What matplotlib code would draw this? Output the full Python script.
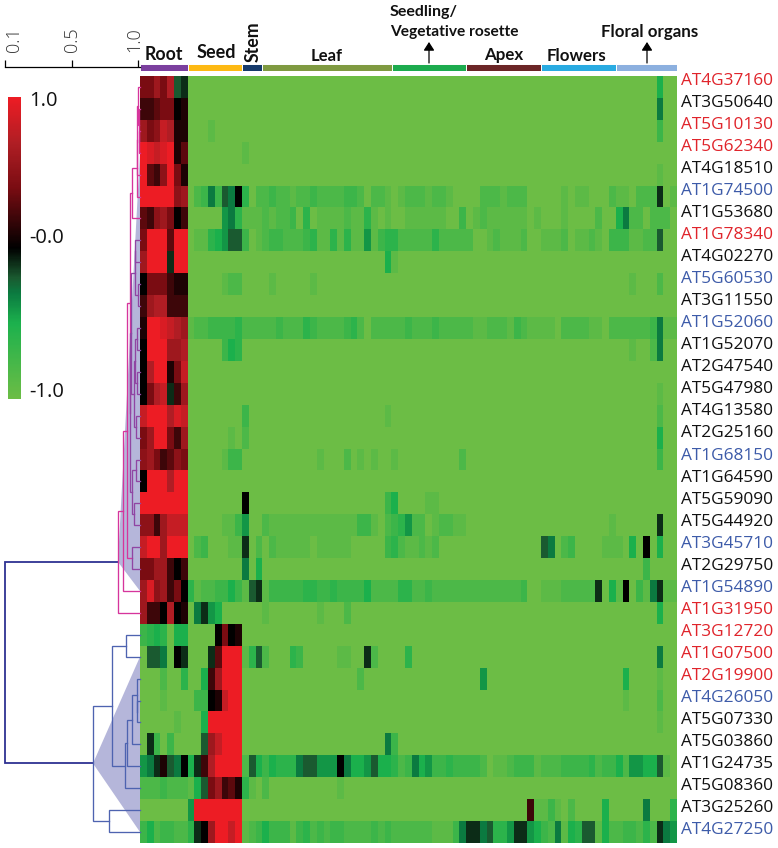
import numpy as np
import matplotlib
matplotlib.use("Agg")
import matplotlib.pyplot as plt
from matplotlib.colors import LinearSegmentedColormap
from matplotlib.cm import ScalarMappable
from matplotlib.colors import Normalize
from matplotlib.patches import FancyArrowPatch

W, H = 778, 848

genes = ["AT4G37160", "AT3G50640", "AT5G10130", "AT5G62340", "AT4G18510", "AT1G74500", "AT1G53680",
         "AT1G78340", "AT4G02270", "AT5G60530", "AT3G11550", "AT1G52060", "AT1G52070", "AT2G47540",
         "AT5G47980", "AT4G13580", "AT2G25160", "AT1G68150", "AT1G64590", "AT5G59090", "AT5G44920",
         "AT3G45710", "AT2G29750", "AT1G54890", "AT1G31950", "AT3G12720", "AT1G07500", "AT2G19900",
         "AT4G26050", "AT5G07330", "AT5G03860", "AT1G24735", "AT5G08360", "AT3G25260", "AT4G27250"]
gene_groups = "rkrrkbkrkbkbkkkkkbkkkbkbrrrrbkkkkkb"

tissue_sizes = [7, 8, 3, 19, 11, 11, 11, 9]
tissue_colors = ["#7B3F9E", "#FDB913", "#163A6B", "#7F9A41", "#1CAB4E", "#6B2526", "#29ABE2", "#8CB0DF"]

# expression, one char per column in tenths:
# 0 = -1.0 ... a = 0.0 ... k = 1.0, blocks follow tissue_sizes
levels = "0123456789abcdefghijk"
Z8, Z3, Z19, Z11, Z9 = "0" * 8, "0" * 3, "0" * 19, "0" * 11, "0" * 9
heat_rows = [
    f"eegeh89 {Z8} {Z3} {Z19} {Z11} {Z11} {Z11} 000000500",
    f"ccdeeab {Z8} {Z3} {Z19} {Z11} {Z11} {Z11} 000000700",
    f"gefihbb 00010000 {Z3} {Z19} {Z11} {Z11} {Z11} 000000300",
    f"kjijkbd {Z8} 100 {Z19} {Z11} {Z11} {Z11} {Z9}",
    f"kdcfkeb {Z8} {Z3} {Z19} {Z11} {Z11} {Z11} 000000100",
    "kkkkkfg 0237387a 402 2322122322223320221 01222122100 00222122200 00010110002 110222901",
    "dcfgeac 00000674 111 2122304011112114101 00111111003 01211111101 00010000200 572202220",
    "ekkkdkk 01145688 301 2332223411414116134 42222242222 20012111200 11120112103 331122800",
    f"gkkk9kk {Z8} {Z3} 0000000000000000005 10000000000 {Z11} {Z11} {Z9}",
    f"aeeecbb 00000122 {Z3} 0100000100000000000 {Z11} {Z11} {Z11} 001000200",
    f"cghhccc {Z8} {Z3} {Z19} {Z11} {Z11} {Z11} {Z9}",
    "bkkjihg 12233334 222 2232224322223420222 22322232222 21122213211 11022221102 222223711",
    f"akkkggh 00000354 {Z3} {Z19} {Z11} {Z11} {Z11} 001002700",
    f"ahkkbei {Z8} {Z3} {Z19} {Z11} {Z11} {Z11} {Z9}",
    f"aehi9cg {Z8} {Z3} {Z19} {Z11} {Z11} {Z11} 000000100",
    f"ikkkhji {Z8} 300 0000000000000000001 {Z11} {Z11} {Z11} 000000200",
    f"egkkecg 00000010 200 {Z19} {Z11} {Z11} {Z11} 000000500",
    f"fgecdfe 00000133 {Z3} 0000000010002010100 10000000002 {Z11} {Z11} 000000300",
    f"akkkhkk {Z8} {Z3} {Z19} {Z11} {Z11} {Z11} {Z9}",
    f"kkkkkkk {Z8} a00 0000000000000000003 50000110000 {Z11} {Z11} {Z9}",
    f"ffcgiii 00000113 600 2111111111111133102 34622012211 {Z11} 00000000001 000000900",
    f"ikkgkkk 02300011 902 0211111011111000003 42112120000 {Z11} 87023000011 1050a0500",
    f"eeggcac {Z8} 705 {Z19} {Z11} {Z11} {Z11} 000030000",
    "gjfgcea 41223353 189 1333334433433335222 24422322222 22222222300 11122222905 1a0317911",
    f"gccahab 07965000 {Z3} 1000000010002000000 {Z11} {Z11} {Z11} 000000500",
    f"3454055 0000aeab {Z3} {Z19} {Z11} {Z11} {Z11} {Z9}",
    f"08870a9 0009dkkk 148 2000430000011009200 00400000000 {Z11} {Z11} 000000700",
    f"0002004 005cgkkk {Z3} 0000000000000020000 {Z11} 00600000000 {Z11} 050000100",
    f"0001000 033abikk {Z3} {Z19} {Z11} {Z11} {Z11} 010000200",
    f"0000010 005kkkkk {Z3} {Z19} {Z11} {Z11} {Z11} 000000100",
    f"0930300 008gikkk {Z3} 0000000000000000007 30000000000 {Z11} {Z11} {Z9}",
    "679b87a 59chkkkk 285 35444788666a7556855 42375633433 33201123331 22233334233 526655810",
    f"2223222 158egcdb 410 2000000000010000000 {Z11} {Z11} {Z11} {Z9}",
    f"0000000 6kkkkkkk {Z3} {Z19} {Z11} 000000000c1 13102000050 000070004",
    "3523322 49agkkik 123 5333134232332222323 22222211137 99784469965 32715488152 233242976",
]
heat = np.array([[levels.index(c) * 0.1 - 1 for c in row.replace(" ", "")] for row in heat_rows])

# dendrogram: (similarity, upper child, lower child, colour), ints are rows
pk, pu, bl, nv = "#D6359C", "#9045A3", "#4E63B0", "#2E3192"
top_part = (0.955, (0.990, (0.994, (1.000, 0, (1.004, 1, (1.008, 2, 3, pk), pk), pk), 4, pk), 5, pk), 6, pk)
mid_part = (0.939,
            (0.947, (0.977, (0.981, 7, 8, pu), (1.000, 9, 10, pu), pu),
             (0.970, (0.977, (0.992, 11, 12, pu), (0.996, 13, 14, pu), pu), (0.985, 15, 16, pu), pu), pu),
            (0.952, (0.985, 17, 18, pu), (0.970, 19, 20, pu), pu), pu)
pink_top = (0.848, (0.884, (0.914, (0.936, top_part, mid_part, pk), (0.952, 21, 22, pu), pk), 23, pk), 24, pk)
seed_part = (0.898, (0.917, (0.958, (0.989, 27, (0.996, 28, 29, bl), bl), 30, bl), 31, bl), 32, bl)
blue_top = (0.659, (0.803, (0.909, 25, 26, bl), seed_part, bl), (0.784, 33, 34, bl), bl)
tree = (0.1, pink_top, blue_top, nv)

sim_ticks = [0.1, 0.5, 1.0]
leaf_sim = 1.015


def px_axes(x0, y0, x1, y1):
    return fig.add_axes([x0 / W, 1 - y1 / H, (x1 - x0) / W, (y1 - y0) / H])


def to_px(s):
    return np.interp(s, [0.1, 0.5, 1.0, leaf_sim], [0, 67, 133, 135])


def from_px(p):
    return np.interp(p, [0, 67, 133, 135], [0.1, 0.5, 1.0, leaf_sim])


cmap = LinearSegmentedColormap.from_list("expr", [
    (0.0, "#6CBD45"), (0.25, "#1CB14D"), (0.35, "#0B7A40"), (0.40, "#1A5A30"), (0.5, "#000000"),
    (0.7, "#7A0C12"), (0.85, "#B01E24"), (1.0, "#ED1C24")])

plt.rcParams["font.family"] = ["Open Sans", "DejaVu Sans"]
fig = plt.figure(figsize=(W / 100, H / 100), dpi=100)

# heatmap
ax = px_axes(140, 76, 677, 843)
ax.imshow(heat, cmap=cmap, vmin=-1, vmax=1, aspect="auto", interpolation="nearest",
          extent=(0, heat.shape[1], heat.shape[0], 0))
ax.axis("off")

# gene labels, a bit tighter to the top than the rows
label_colors = {"r": "#E0242B", "k": "#111111", "b": "#3D5BA9"}
for name, g, y in zip(genes, gene_groups, np.linspace(81, 830, len(genes))):
    fig.text(681 / W, 1 - y / H, name, color=label_colors[g], fontsize=12.4, va="center", ha="left")

# tissue strip
strip = px_axes(140, 64, 677, 71)
start = 0
for size, c in zip(tissue_sizes, tissue_colors):
    strip.barh(0, size, left=start, height=1, color=c, edgecolor="white", linewidth=0.7)
    start += size
strip.set_xlim(0, heat.shape[1])
strip.set_ylim(-0.5, 0.5)
strip.axis("off")

# dendrogram
tr = px_axes(5, 76, 140, 843)
tr.set_xscale("function", functions=(to_px, from_px))
tr.set_xlim(0.1, leaf_sim)
tr.set_ylim(len(genes), 0)
tr.axis("off")


def node_y(n):
    if isinstance(n, int):
        return n + 0.5
    return (node_y(n[1]) + node_y(n[2])) / 2


def node_x(n):
    return leaf_sim if isinstance(n, int) else n[0]


def draw(n):
    if isinstance(n, int):
        return
    s, a, b, c = n
    ya, yb = node_y(a), node_y(b)
    tr.plot([node_x(a), s, s, node_x(b)], [ya, ya, yb, yb], color=c, lw=1.3 if c == nv else 0.95,
            solid_joinstyle="miter", zorder=3, clip_on=False)
    draw(a)
    draw(b)


for top, first, last in [(pink_top, 3, 23), (blue_top, 26, 34)]:
    tr.fill([top[0], leaf_sim, leaf_sim], [node_y(top), first + 0.5, last + 0.5], color="#B5B6DA", lw=0, zorder=1)
draw(tree)

# similarity scale
sc = px_axes(5, 60, 140, 67)
sc.set_xscale("function", functions=(to_px, from_px))
sc.set_xlim(0.1, leaf_sim)
sc.set_ylim(0, 1)
for side in ["top", "left", "right"]:
    sc.spines[side].set_visible(False)
sc.spines["bottom"].set_linewidth(0.9)
sc.set_yticks([])
sc.set_xticks(sim_ticks)
sc.set_xticklabels([])
sc.tick_params(axis="x", direction="in", length=5, width=0.9)
for s, dx in zip(sim_ticks, [9, 0, -4]):
    sc.annotate(f"{s:.1f}", (s, 1), xytext=(dx * 0.72, 6), textcoords="offset points", rotation=90,
                ha="center", va="bottom", fontsize=13, color="#333333", fontweight="light")

# colour bar
cax = px_axes(8, 97, 21, 399)
cb = fig.colorbar(ScalarMappable(Normalize(-1, 1), cmap), cax=cax)
cb.outline.set_visible(False)
cb.set_ticks([0.99, 0.08, -0.94], labels=["1.0", "-0.0", "-1.0"])
cb.ax.tick_params(length=0, labelsize=14.5, pad=6, labelcolor="#111111")

# tissue headers
bold = dict(family=["Lato", "DejaVu Sans"], fontweight="bold", color="#111111", va="center")
fig.text(164 / W, 1 - 54 / H, "Root", ha="center", fontsize=12.8, **bold)
fig.text(216 / W, 1 - 53 / H, "Seed", ha="center", fontsize=13, **bold)
fig.text(253 / W, 1 - 42 / H, "Stem", ha="center", rotation=90, fontsize=12.8, **bold)
fig.text(327 / W, 1 - 56 / H, "Leaf", ha="center", fontsize=12, **bold)
fig.text(390 / W, 1 - 12 / H, "Seedling/", ha="left", fontsize=11.5, **bold)
fig.text(390 / W, 1 - 32 / H, "Vegetative rosette", ha="left", fontsize=11.2, **bold)
fig.text(504 / W, 1 - 55 / H, "Apex", ha="center", fontsize=12.2, **bold)
fig.text(577 / W, 1 - 56 / H, "Flowers", ha="center", fontsize=12.2, **bold)
fig.text(601 / W, 1 - 32 / H, "Floral organs", ha="left", fontsize=12.2, **bold)
for x in [429, 647]:
    fig.add_artist(FancyArrowPatch(
        (x / W, 1 - 63 / H), (x / W, 1 - 42 / H), transform=fig.transFigure,
        arrowstyle="-|>,head_length=5,head_width=3.2", color="black", lw=0.9, shrinkA=0, shrinkB=0))

fig.savefig("out.png", dpi=100)
